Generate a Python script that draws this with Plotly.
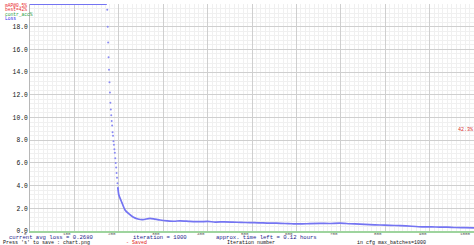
import plotly.graph_objects as go

# ---------------- data ----------------
clip_iters = [0, 173]
clip_loss = [20.0, 20.0]

drop_iters = list(range(174, 199))
drop_loss = [19.5, 18.0, 16.6, 15.3, 14.2, 13.1, 12.2, 11.3, 10.7, 10.2,
             9.7, 9.3, 8.7, 8.4, 7.9, 7.6, 7.2, 6.9, 6.4, 6.0,
             5.6, 5.1, 4.7, 4.2, 3.8]

tail_iters = [198, 200, 207, 214, 223, 232, 243, 254, 270, 281, 293, 309, 325,
              338, 360, 383, 400, 417, 437, 457, 475, 495, 515, 534, 555, 574,
              590, 608, 630, 653, 675, 698, 720, 743, 765, 788, 810, 833, 860,
              885, 905, 923, 940, 957, 980, 1000]
tail_loss = [3.8, 3.2, 2.5, 1.85, 1.5, 1.23, 1.06, 1.0, 1.12, 1.05, 0.97, 0.9, 0.86,
             0.9, 0.85, 0.82, 0.84, 0.79, 0.8, 0.78, 0.76, 0.74, 0.72, 0.7, 0.69, 0.66,
             0.64, 0.62, 0.65, 0.67, 0.66, 0.7, 0.64, 0.6, 0.56, 0.53, 0.5, 0.47, 0.42,
             0.36, 0.36, 0.34, 0.35, 0.31, 0.29, 0.27]

y_tick_vals = [0, 2, 4, 6, 8, 10, 12, 14, 16, 18, 20]
y_tick_text = ["0.0", "2.0", "4.0", "6.0", "8.0", "10.0", "12.0", "14.0", "16.0", "18.0", ""]
x_tick_vals = [0, 100, 200, 300, 400, 500, 600, 700, 800, 900, 1000]
x_tick_text = ["0", "100", "200", "300", "400", "500", "600", "700", "800", "900", "1000"]

map_iters = [1000]
map_vals = [42.3]
max_loss = 20.0

avg_loss = 0.2680
cur_iter = 1000
time_left = 0.12
max_batches = 1000

# ---------------- layout helpers ----------------
W, H = 474, 245
PL, PT, PW, PH = 30, 4, 444, 227


def fx(px):
    return (px - PL) / PW


def fy(py):
    return (PT + PH - py) / PH


LOSS_C = "#7474f2"
MONO = "Liberation Mono"

fig = go.Figure()
fig.add_trace(go.Scatter(x=clip_iters, y=clip_loss, mode="lines",
                         line=dict(color=LOSS_C, width=2), cliponaxis=False,
                         hoverinfo="skip", showlegend=False))
fig.add_trace(go.Scatter(x=drop_iters, y=drop_loss, mode="markers",
                         marker=dict(color="#8a8af4", size=2, line=dict(width=0)),
                         hoverinfo="skip", showlegend=False))
fig.add_trace(go.Scatter(x=tail_iters, y=tail_loss, mode="lines",
                         line=dict(color=LOSS_C, width=1.7, shape="spline", smoothing=0.6),
                         hoverinfo="skip", showlegend=False))

ann = []
# x tick labels (right-aligned just left of their grid line)
for v, t in zip(x_tick_vals, x_tick_text):
    ann.append(dict(x=v, xref="x", y=0, yref="paper", xanchor="right", yanchor="top",
                    xshift=-2, yshift=0, text=t, showarrow=False, borderpad=0,
                    font=dict(family=MONO, size=4.2, color="#555555")))

# top-left legend
legend_lines = [("mAP@0.5%", "#e82828", 5), ("best=42%", "#e82828", 9.5),
                ("contr_acc%", "#28a040", 14), ("Loss", "#2828e8", 18.5)]
for txt, col, ypx in legend_lines:
    ann.append(dict(x=fx(4), xref="paper", y=fy(ypx), yref="paper", xanchor="left",
                    yanchor="middle", text=txt, showarrow=False, borderpad=0,
                    font=dict(family=MONO, size=4.6, color=col)))

# mAP value text (right edge)
for it, mv in zip(map_iters, map_vals):
    ann.append(dict(x=it, xref="x", y=mv / 100 * max_loss, yref="y", xanchor="left",
                    yanchor="bottom", xshift=-17, yshift=1, text=f"{mv:.1f}%",
                    showarrow=False, borderpad=0,
                    font=dict(family=MONO, size=5, color="#d83030")))

# bottom status line 1 (three segments)
row1 = [(f"current avg loss = {avg_loss:.4f}", 8),
        (f"iteration = {cur_iter}", 132),
        (f"approx. time left = {time_left:.2f} hours", 215)]
for txt, xpx in row1:
    ann.append(dict(x=fx(xpx), xref="paper", y=fy(237.8), yref="paper", xanchor="left",
                    yanchor="middle", text=txt, showarrow=False, borderpad=0,
                    font=dict(family=MONO, size=5.6, color="#1c1c8a")))
# bottom status line 2
row2 = [("Press 's' to save : chart.png", "#111111", 2),
        ("- Saved", "#e02020", 125),
        ("Iteration number", "#111111", 226),
        (f"in cfg max_batches={max_batches}", "#111111", 356)]
for txt, col, xpx in row2:
    ann.append(dict(x=fx(xpx), xref="paper", y=fy(243.3), yref="paper", xanchor="left",
                    yanchor="middle", text=txt, showarrow=False, borderpad=0,
                    font=dict(family=MONO, size=5, color=col)))

fig.update_layout(
    width=W, height=H,
    margin=dict(l=PL, r=W - PL - PW, t=PT, b=H - PT - PH, pad=0, autoexpand=False),
    paper_bgcolor="white", plot_bgcolor="white",
    showlegend=False,
    annotations=ann,
    xaxis=dict(range=[0, 1000], tickmode="array", tickvals=x_tick_vals, automargin=False,
               showticklabels=False, ticks="", showgrid=True, gridcolor="#cfcfcf",
               gridwidth=1, zeroline=False, showline=True, linecolor="#9ed49e",
               linewidth=1.5,
               minor=dict(tickmode="linear", tick0=0, dtick=10, showgrid=True,
                          gridcolor="#f0f0f0", gridwidth=1)),
    yaxis=dict(range=[0, 20], tickmode="array", tickvals=y_tick_vals, ticktext=y_tick_text,
               automargin=False,
               ticks="", showgrid=True, gridcolor="#cfcfcf", gridwidth=1, zeroline=False,
               showline=True, linecolor="#b8b8b8", linewidth=1,
               tickfont=dict(family=MONO, size=6.3, color="#111111"),
               minor=dict(tickmode="linear", tick0=0, dtick=0.4, showgrid=True,
                          gridcolor="#f0f0f0", gridwidth=1)),
)

fig.write_html("out.html", config={"displayModeBar": False},
               post_script="document.body.style.margin='0px';")
